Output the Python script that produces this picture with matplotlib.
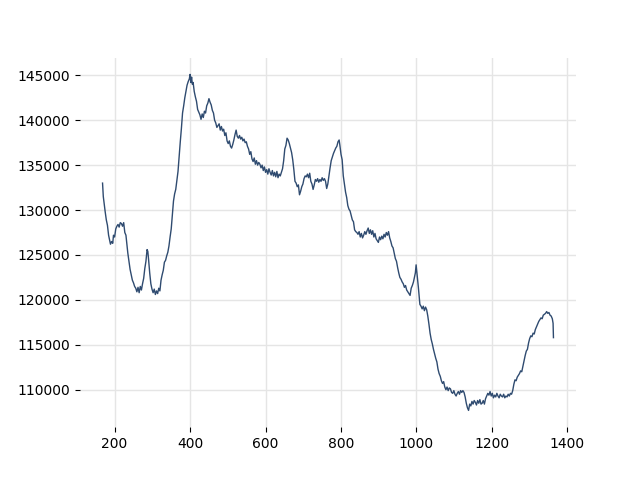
import matplotlib
matplotlib.use("Agg")
import matplotlib.pyplot as plt

# sample position (x) and value (y)
x_vals = [168, 170, 172, 175, 178, 181, 184, 187, 189, 192, 195, 197, 200, 203, 206, 209, 212, 215, 218, 221,
          224, 227, 230, 233, 235, 238, 241, 244, 247, 250, 253, 256, 259, 262, 265, 268, 271, 274, 277, 280,
          283, 286, 288, 290, 293, 296, 299, 302, 305, 308, 311, 314, 317, 320, 323, 326, 329, 332, 335, 338,
          341, 344, 347, 350, 353, 356, 359, 362, 365, 368, 371, 374, 377, 380, 383, 386, 389, 392, 395, 398,
          400, 402, 404, 406, 408, 411, 414, 417, 420, 423, 426, 429, 432, 435, 438, 441, 444, 447, 450, 453,
          456, 459, 462, 465, 468, 471, 474, 477, 480, 483, 486, 489, 492, 495, 498, 501, 504, 507, 510, 513,
          516, 519, 522, 525, 528, 531, 534, 537, 540, 543, 546, 549, 552, 555, 558, 561, 564, 567, 570, 573,
          576, 579, 582, 585, 588, 591, 594, 597, 600, 603, 606, 609, 612, 615, 618, 621, 624, 627, 630, 633,
          636, 639, 642, 645, 648, 651, 654, 657, 660, 663, 666, 669, 672, 675, 678, 681, 684, 687, 690, 693,
          696, 699, 702, 705, 708, 711, 714, 717, 720, 723, 726, 729, 732, 735, 738, 741, 744, 747, 750, 753,
          756, 759, 762, 765, 768, 771, 774, 777, 780, 783, 786, 789, 792, 795, 797, 800, 803, 806, 809, 812,
          815, 818, 821, 824, 827, 830, 833, 836, 839, 842, 845, 848, 851, 854, 857, 860, 863, 866, 869, 872,
          875, 878, 881, 884, 887, 890, 893, 896, 899, 902, 905, 908, 911, 914, 917, 920, 923, 926, 929, 932,
          935, 938, 941, 944, 947, 950, 953, 956, 959, 962, 965, 968, 971, 974, 977, 980, 983, 986, 989, 992,
          995, 997, 999, 1001, 1003, 1005, 1007, 1009, 1012, 1015, 1018, 1021, 1024, 1027, 1030, 1033, 1036, 1039, 1042, 1045,
          1048, 1051, 1054, 1057, 1060, 1063, 1066, 1069, 1072, 1075, 1078, 1081, 1084, 1087, 1090, 1093, 1096, 1099, 1102, 1105,
          1108, 1111, 1114, 1117, 1120, 1123, 1126, 1129, 1132, 1135, 1138, 1141, 1144, 1147, 1150, 1153, 1156, 1159, 1162, 1165,
          1168, 1171, 1174, 1177, 1180, 1183, 1186, 1189, 1192, 1195, 1198, 1201, 1204, 1207, 1210, 1213, 1216, 1219, 1222, 1225,
          1228, 1231, 1234, 1237, 1240, 1243, 1246, 1249, 1252, 1255, 1258, 1261, 1264, 1267, 1270, 1273, 1276, 1279, 1282, 1285,
          1288, 1291, 1294, 1297, 1300, 1303, 1306, 1309, 1312, 1315, 1318, 1321, 1324, 1327, 1330, 1333, 1336, 1339, 1342, 1345,
          1348, 1351, 1354, 1357, 1360, 1362, 1363]

y_vals = [133000, 131500, 130800, 129800, 128900, 128300, 127200, 126600, 126200, 126500, 126300, 127200, 127000, 127900, 128200, 128400, 128100, 128600, 128500, 128200,
          128600, 127500, 127200, 126000, 125200, 124300, 123400, 122800, 122200, 121900, 121500, 121300, 120900, 121400, 120800, 121500, 121100, 121800, 122400, 123500,
          124300, 125600, 125400, 124500, 123000, 121800, 121200, 120800, 121200, 120600, 121000, 120700, 121300, 121000, 122200, 122800, 123300, 124200, 124400, 124900,
          125300, 126000, 127000, 127900, 129500, 131000, 131800, 132300, 133300, 134300, 136000, 137600, 139100, 140800, 141600, 142500, 143200, 143900, 144300, 144600,
          145100, 144200, 144800, 144000, 144200, 143200, 142600, 142100, 141200, 140900, 140600, 140100, 140700, 140300, 141000, 140800, 141600, 141900, 142400, 142000,
          141700, 141100, 140800, 140000, 139700, 139200, 139400, 139600, 138900, 139300, 138800, 139000, 138300, 138600, 137700, 137400, 137700, 137100, 136900, 137300,
          137800, 138400, 138900, 138200, 138000, 138300, 137900, 138100, 137700, 137900, 137500, 137600, 137100, 136800, 136200, 136500, 135700, 135400, 135800, 135100,
          135500, 135000, 135300, 135100, 134700, 135000, 134400, 134800, 134200, 134500, 134000, 134600, 134200, 133900, 134400, 133800, 134200, 133700, 134300, 133600,
          134000, 133800, 134200, 134600, 135500, 136800, 137200, 138000, 137800, 137400, 136900, 136400, 135600, 134500, 133200, 133000, 132600, 132800, 131700, 132100,
          132600, 132900, 133500, 133800, 133700, 134000, 133600, 134100, 133200, 132900, 132300, 132800, 133400, 133200, 133500, 133100, 133400, 133200, 133600, 133300,
          133500, 133200, 132400, 132900, 133800, 134700, 135500, 135900, 136300, 136600, 136900, 137100, 137600, 137800, 137200, 136200, 135600, 133800, 132900, 132000,
          131400, 130500, 130100, 129900, 129400, 128900, 128700, 127800, 127600, 127500, 127300, 127600, 127000, 127400, 126900, 127200, 127600, 127300, 127700, 128000,
          127400, 127800, 127300, 127700, 127000, 127400, 126800, 126600, 126400, 127000, 126700, 127100, 126800, 127300, 127000, 127500, 127200, 127600, 126900, 126500,
          126000, 125800, 125200, 124600, 124300, 123600, 123000, 122500, 122300, 122000, 121800, 121400, 121600, 121100, 120900, 120700, 120500, 121300, 121600, 122000,
          122600, 123000, 123900, 123100, 122300, 121400, 120500, 119500, 119300, 119000, 119300, 118800, 119200, 118900, 118200, 117300, 116300, 115600, 115100, 114500,
          114000, 113500, 113100, 112300, 111800, 111500, 111000, 110700, 110900, 110300, 110000, 110300, 109900, 110200, 110100, 109700, 109600, 109900, 109500, 109300,
          109600, 109800, 109500, 109900, 109700, 109900, 109700, 109200, 108500, 108000, 107700, 108400, 108200, 108700, 108400, 108800, 108600, 108300, 108800, 108500,
          108900, 108400, 108500, 108800, 108400, 109000, 109300, 109600, 109400, 109800, 109300, 109600, 109100, 109400, 109200, 109600, 109300, 109100, 109500, 109300,
          109200, 109500, 109100, 109300, 109200, 109500, 109300, 109600, 109500, 109900, 110600, 111100, 111000, 111400, 111600, 111800, 112100, 112000, 112600, 113200,
          113800, 114300, 114500, 115200, 115700, 116000, 115900, 116300, 116200, 116700, 117000, 117300, 117600, 117800, 118000, 117900, 118300, 118400, 118500, 118700,
          118500, 118600, 118300, 118200, 117900, 117400, 115800]

y_ticks = [110000, 115000, 120000, 125000, 130000, 135000, 140000, 145000]
x_ticks = [200, 400, 600, 800, 1000, 1200, 1400]

fig, ax = plt.subplots(figsize=(6.4, 4.8), dpi=100)
ax.plot(x_vals, y_vals, color="#2f4b70", linewidth=1.0)

ax.set_xticks(x_ticks)
ax.set_yticks(y_ticks)
ax.ticklabel_format(axis="y", style="plain", useOffset=False)
ax.grid(True, color="#e5e5e5", linewidth=1)
ax.set_axisbelow(True)
for s in ax.spines.values():
    s.set_visible(False)

fig.savefig("out.png")
